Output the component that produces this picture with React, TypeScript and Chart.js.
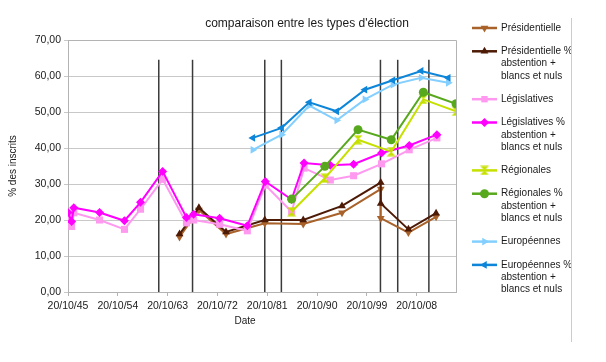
import React, { useEffect, useRef } from 'react';
import { Chart, registerables } from 'chart.js';
Chart.register(...registerables);

// ---- data ----
const tickYears = [1945, 1954, 1963, 1972, 1981, 1990, 1999, 2008];
const yTickMax = 70;

const presYears = [1965.95, 1969.45, 1974.35, 1981.35, 1988.3, 1995.3, 2002.3, 2002.3, 2007.3, 2012.3];
const presidentielle = [15.3, 22.8, 16.1, 19.1, 18.9, 22.0, 28.6, 20.5, 16.5, 20.9];
const presidentielleAbs = [16.1, 23.4, 16.7, 20.0, 20.0, 23.9, 30.4, 24.6, 17.4, 21.9];

const legYears = [1945.8, 1946.45, 1946.85, 1951.5, 1956.0, 1958.9, 1962.9, 1967.2, 1968.5, 1973.2, 1978.2, 1981.45, 1986.2, 1988.45, 1993.2, 1997.4, 2002.45, 2007.45, 2012.45];
const legislatives = [20.5, 18.2, 22.0, 20.0, 17.4, 23.0, 31.3, 19.2, 20.0, 18.8, 17.0, 29.7, 22.3, 34.4, 31.1, 32.3, 35.6, 39.5, 42.8];
const legislativesAbs = [22.1, 19.6, 23.4, 22.1, 19.8, 24.9, 33.5, 20.7, 21.6, 20.5, 18.4, 30.7, 25.7, 35.8, 35.2, 35.5, 38.6, 40.7, 43.7];

const regYears = [1986.2, 1992.2, 1998.2, 2004.2, 2010.0, 2015.9];
const regionales = [22.3, 31.6, 42.3, 39.0, 53.5, 50.2];
const regionalesAbs = [25.8, 34.9, 45.1, 42.3, 55.5, 52.3];

const eurYears = [1979.2, 1984.4, 1989.4, 1994.35, 1999.45, 2004.5, 2009.6, 2014.5];
const europeennes = [39.5, 43.7, 51.8, 47.7, 53.5, 57.6, 59.5, 58.1];
const europeennesAbs = [42.8, 45.6, 52.7, 50.2, 56.2, 58.8, 61.4, 59.5];

const markerYears = [1962.2, 1968.3, 1981.35, 1984.35, 2002.25, 2005.37, 2011.0];
const markerTop = 64.5;

const seriesNames = [
  ['Présidentielle'],
  ['Présidentielle %', 'abstention +', 'blancs et nuls'],
  ['Législatives'],
  ['Législatives %', 'abstention +', 'blancs et nuls'],
  ['Régionales'],
  ['Régionales %', 'abstention +', 'blancs et nuls'],
  ['Européennes'],
  ['Européennes %', 'abstention +', 'blancs et nuls'],
];

const FONT = "'Liberation Sans', Arial, sans-serif";

function makeHourglass(color: string) {
  const c = document.createElement('canvas');
  c.width = 10; c.height = 10;
  const g = c.getContext('2d')!;
  g.fillStyle = color;
  g.beginPath(); g.moveTo(0.5, 0.5); g.lineTo(9.5, 0.5); g.lineTo(5, 5); g.closePath(); g.fill();
  g.beginPath(); g.moveTo(0.5, 9.5); g.lineTo(9.5, 9.5); g.lineTo(5, 5); g.closePath(); g.fill();
  return c;
}

function drawMarker(ctx: CanvasRenderingContext2D, style: any, rot: number, x: number, y: number, r: number, color: string) {
  ctx.save();
  ctx.translate(x, y);
  ctx.fillStyle = color;
  if (style instanceof HTMLCanvasElement) {
    ctx.drawImage(style, -style.width / 2, -style.height / 2);
    ctx.restore();
    return;
  }
  ctx.rotate((rot * Math.PI) / 180);
  ctx.beginPath();
  if (style === 'circle') {
    ctx.arc(0, 0, r, 0, Math.PI * 2);
  } else if (style === 'rect') {
    const s = r * Math.SQRT1_2;
    ctx.rect(-s, -s, 2 * s, 2 * s);
  } else if (style === 'rectRot') {
    ctx.moveTo(0, -r); ctx.lineTo(r, 0); ctx.lineTo(0, r); ctx.lineTo(-r, 0);
  } else if (style === 'triangle') {
    for (let k = 0; k < 3; k++) {
      const a = -Math.PI / 2 + (k * 2 * Math.PI) / 3;
      const px = Math.cos(a) * r, py = Math.sin(a) * r;
      if (k === 0) ctx.moveTo(px, py); else ctx.lineTo(px, py);
    }
  }
  ctx.closePath();
  ctx.fill();
  ctx.restore();
}

export default function App() {
  const ref = useRef<HTMLCanvasElement>(null);
  useEffect(() => {
    const canvas = ref.current!;
    const hourglass = makeHourglass('#c6e000');
    const defs = [
      { xs: presYears, ys: presidentielle, color: '#a8622a', style: 'triangle', rot: 180 },
      { xs: presYears, ys: presidentielleAbs, color: '#4d1a06', style: 'triangle', rot: 0 },
      { xs: legYears, ys: legislatives, color: '#ff99f0', style: 'rect', rot: 0 },
      { xs: legYears, ys: legislativesAbs, color: '#ff00ff', style: 'rectRot', rot: 0 },
      { xs: regYears, ys: regionales, color: '#c6e000', style: hourglass, rot: 0 },
      { xs: regYears, ys: regionalesAbs, color: '#58a81e', style: 'circle', rot: 0 },
      { xs: eurYears, ys: europeennes, color: '#83cfff', style: 'triangle', rot: 90 },
      { xs: eurYears, ys: europeennesAbs, color: '#0d85d8', style: 'triangle', rot: -90 },
    ];
    const datasets: any[] = defs.map((d, i) => ({
      label: seriesNames[i][0],
      data: d.xs.map((x, j) => ({ x, y: d.ys[j] })),
      borderColor: d.color,
      backgroundColor: d.color,
      borderWidth: 2,
      pointStyle: d.style,
      pointRotation: d.rot,
      pointRadius: d.style === 'rect' ? 5 : 4.5,
      pointBorderWidth: 0,
      tension: 0,
      order: 20 - i,
    }));
    markerYears.forEach((x) => {
      datasets.push({
        label: '',
        data: [{ x, y: 0 }, { x, y: markerTop }],
        borderColor: '#3a3a3a',
        borderWidth: 1.5,
        pointRadius: 0,
        order: 100,
      });
    });

    const decor = {
      id: 'decor',
      beforeDatasetsDraw(chart: any) {
        const { ctx, chartArea: a } = chart;
        ctx.save();
        ctx.strokeStyle = '#b3b3b3';
        ctx.lineWidth = 1;
        ctx.beginPath();
        ctx.moveTo(a.left, a.top + 0.5);
        ctx.lineTo(a.right + 0.5, a.top + 0.5);
        ctx.lineTo(a.right + 0.5, a.bottom);
        ctx.stroke();
        ctx.restore();
      },
      afterDraw(chart: any) {
        const ctx: CanvasRenderingContext2D = chart.ctx;
        ctx.save();
        ctx.fillStyle = '#1a1a1a';
        ctx.textBaseline = 'middle';
        // title
        ctx.font = `12px ${FONT}`;
        ctx.textAlign = 'center';
        ctx.fillText("comparaison entre les types d'élection", 307, 24);
        // axis titles
        ctx.font = `10px ${FONT}`;
        ctx.fillText('Date', 245, 321);
        ctx.save();
        ctx.translate(13, 166);
        ctx.rotate(-Math.PI / 2);
        ctx.fillText('% des inscrits', 0, 0);
        ctx.restore();
        // legend border
        ctx.strokeStyle = '#cccccc';
        ctx.lineWidth = 1;
        ctx.beginPath();
        ctx.moveTo(571.5, 18);
        ctx.lineTo(571.5, 342);
        ctx.stroke();
        // legend
        ctx.save();
        ctx.beginPath();
        ctx.rect(0, 0, 571, 362);
        ctx.clip();
        ctx.textAlign = 'left';
        ctx.font = `10px ${FONT}`;
        let y = 28;
        defs.forEach((d, i) => {
          const lines = seriesNames[i];
          ctx.strokeStyle = d.color;
          ctx.lineWidth = 2.5;
          ctx.beginPath();
          ctx.moveTo(472, y);
          ctx.lineTo(497, y);
          ctx.stroke();
          drawMarker(ctx, d.style, d.rot, 484.5, y, 4.5, d.color);
          ctx.fillStyle = '#1a1a1a';
          lines.forEach((t, k) => ctx.fillText(t, 501, y + k * 12.3));
          y += (lines.length - 1) * 12.3 + 23.3;
        });
        ctx.restore();
        ctx.restore();
      },
    };

    const chart = new Chart(canvas, {
      type: 'line',
      data: { datasets },
      plugins: [decor],
      options: {
        animation: false,
        responsive: false,
        devicePixelRatio: 1,
        layout: { padding: { top: 40, right: 150, left: 0, bottom: 0 } },
        plugins: { legend: { display: false }, tooltip: { enabled: false }, title: { display: false } },
        scales: {
          x: {
            type: 'linear',
            min: 1945.8,
            max: 2015.9,
            afterBuildTicks: (s: any) => {
              s.ticks = tickYears.map((yr) => ({ value: yr + 0.8 }));
            },
            afterFit: (s: any) => { s.height = 70; },
            ticks: {
              autoSkip: false,
              maxRotation: 0,
              padding: 4,
              color: '#1a1a1a',
              font: { family: FONT, size: 10.5 },
              callback: (v: any) => '20/10/' + String(Math.round(Number(v) - 0.8) % 100).padStart(2, '0'),
            },
            grid: { drawOnChartArea: false, drawTicks: true, tickLength: 4, color: '#b3b3b3' },
            border: { color: '#b3b3b3' },
          },
          y: {
            min: 0,
            max: yTickMax,
            afterFit: (s: any) => { s.width = 68; },
            ticks: {
              stepSize: 10,
              padding: 3,
              color: '#1a1a1a',
              font: { family: FONT, size: 10.5 },
              callback: (v: any) => Number(v).toFixed(2).replace('.', ','),
            },
            grid: { color: '#c8c8c8', tickLength: 4 },
            border: { color: '#b3b3b3' },
          },
        },
      },
    } as any);
    return () => chart.destroy();
  }, []);
  return (
    <div style={{ position: 'fixed', left: 0, top: 0, width: 606, height: 362, background: '#fff' }}>
      <canvas ref={ref} width={606} height={362} style={{ display: 'block' }} />
    </div>
  );
}
